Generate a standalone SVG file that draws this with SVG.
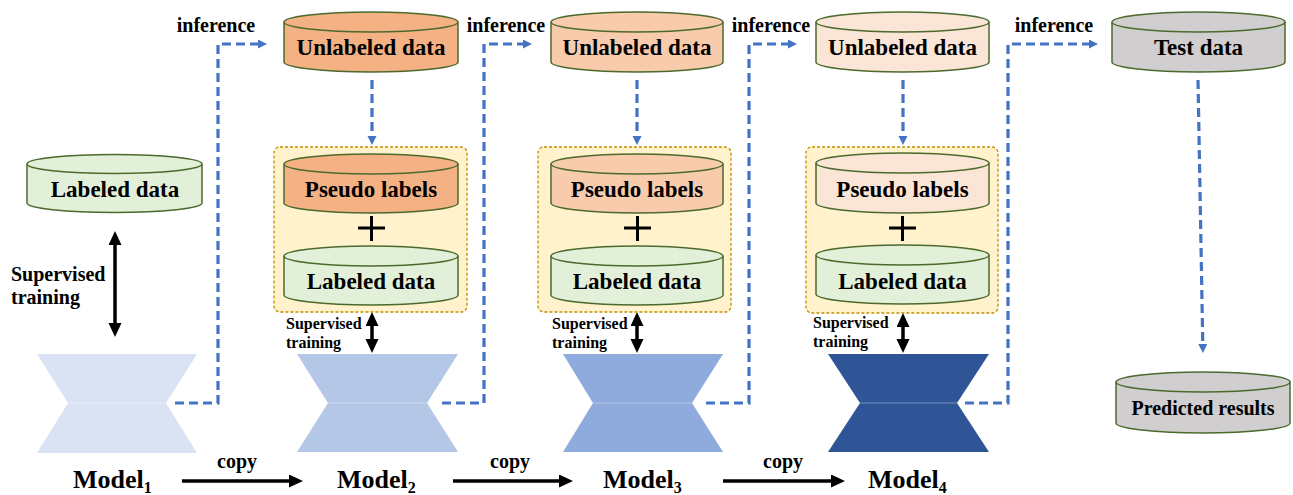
<svg xmlns="http://www.w3.org/2000/svg" width="1293" height="495" viewBox="0 0 1293 495">
<style>
text{font-family:"Liberation Serif","Times New Roman",serif;font-weight:bold;fill:#000}
.cyl{stroke:#4b6a2c;stroke-width:1.5}
.lab{fill:#e2f0d9}
.t23{font-size:23px;text-anchor:middle}
.box{fill:#fff2cc;stroke:#bf9000;stroke-width:1.3;stroke-dasharray:3 2}
.dash{fill:none;stroke:#4472c4;stroke-width:3.2;stroke-dasharray:9 5}
.blk{fill:none;stroke:#000;stroke-width:3.5}
.plus{stroke:#000;stroke-width:3}
.seam{stroke:#ffffff;stroke-opacity:0.35;stroke-width:1}
</style>
<defs>
<marker id="bh" markerUnits="userSpaceOnUse" markerWidth="10" markerHeight="10" refX="1" refY="4.5" orient="auto"><path d="M0,0 L9,4.5 L0,9 z" fill="#4472c4"/></marker>
<marker id="kh" markerUnits="userSpaceOnUse" markerWidth="16" markerHeight="14" refX="1" refY="6.5" orient="auto-start-reverse"><path d="M0,0 L14,6.5 L0,13 z" fill="#000"/></marker>
</defs>

<g id="connectors">
  <path class="dash" d="M175,403 H218 V44 H259" marker-end="url(#bh)"/>
  <path class="dash" d="M442,403 H484 V44 H524" marker-end="url(#bh)"/>
  <path class="dash" d="M706,403 H749 V44 H789" marker-end="url(#bh)"/>
  <path class="dash" d="M965,403 H1008 V44 H1090" marker-end="url(#bh)"/>
  <path class="dash" d="M372,80 V137" marker-end="url(#bh)"/>
  <path class="dash" d="M637,80 V137" marker-end="url(#bh)"/>
  <path class="dash" d="M903,80 V137" marker-end="url(#bh)"/>
  <path class="dash" d="M1198,80 L1202.8,345" marker-end="url(#bh)"/>
  <path class="blk" d="M115,244 V324" marker-start="url(#kh)" marker-end="url(#kh)"/>
  <path class="blk" d="M372,325 V340" marker-start="url(#kh)" marker-end="url(#kh)"/>
  <path class="blk" d="M637,325 V340" marker-start="url(#kh)" marker-end="url(#kh)"/>
  <path class="blk" d="M903,326 V340" marker-start="url(#kh)" marker-end="url(#kh)"/>
  <path class="blk" d="M182,481 H290" marker-end="url(#kh)"/>
  <path class="blk" d="M453,481 H560" marker-end="url(#kh)"/>
  <path class="blk" d="M723,481 H832" marker-end="url(#kh)"/>
  <text x="237" y="468" font-size="20" text-anchor="middle">copy</text>
  <text x="510" y="468" font-size="20" text-anchor="middle">copy</text>
  <text x="783" y="468" font-size="20" text-anchor="middle">copy</text>
  <text x="216" y="32" font-size="20" text-anchor="middle">inference</text>
  <text x="506" y="32" font-size="20" text-anchor="middle">inference</text>
  <text x="771" y="32" font-size="20" text-anchor="middle">inference</text>
  <text x="1054" y="32" font-size="20" text-anchor="middle">inference</text>
  <text x="11" y="281" font-size="20">Supervised</text>
  <text x="11" y="304" font-size="20">training</text>
  <text x="286" y="329" font-size="16">Supervised</text>
  <text x="286" y="348" font-size="16">training</text>
  <text x="552" y="329" font-size="16">Supervised</text>
  <text x="552" y="348" font-size="16">training</text>
  <text x="813" y="328" font-size="16">Supervised</text>
  <text x="813" y="347" font-size="16">training</text>
</g>

<g id="labeled1">
  <path class="cyl lab" d="M27,164 V203 A87.5,9.5 0 0 0 202,203 V164"/>
  <ellipse class="cyl lab" cx="114.5" cy="164" rx="87.5" ry="9.5"/>
  <text class="t23" x="115" y="197">Labeled data</text>
</g>

<g id="unlabeled2">
  <path class="cyl" fill="#f4b183" d="M284,22 V62 A87,10 0 0 0 458,62 V22"/>
  <ellipse class="cyl" fill="#f4b183" cx="371" cy="22" rx="87" ry="10"/>
  <text class="t23" x="371" y="55">Unlabeled data</text>
</g>
<g id="unlabeled3">
  <path class="cyl" fill="#f8cbad" d="M551,22 V62 A86,10 0 0 0 723,62 V22"/>
  <ellipse class="cyl" fill="#f8cbad" cx="637" cy="22" rx="86" ry="10"/>
  <text class="t23" x="637" y="55">Unlabeled data</text>
</g>
<g id="unlabeled4">
  <path class="cyl" fill="#fbe5d6" d="M816,22 V62 A86.5,10 0 0 0 989,62 V22"/>
  <ellipse class="cyl" fill="#fbe5d6" cx="902.5" cy="22" rx="86.5" ry="10"/>
  <text class="t23" x="902.5" y="55">Unlabeled data</text>
</g>
<g id="testdata">
  <path class="cyl" fill="#d0cece" d="M1112,22 V62 A86.5,10 0 0 0 1285,62 V22"/>
  <ellipse class="cyl" fill="#d0cece" cx="1198.5" cy="22" rx="86.5" ry="10"/>
  <text class="t23" x="1198.5" y="55">Test data</text>
</g>
<g id="predicted">
  <path class="cyl" fill="#d0cece" d="M1116,382 V423 A87,10 0 0 0 1290,423 V382"/>
  <ellipse class="cyl" fill="#d0cece" cx="1203" cy="382" rx="87" ry="10"/>
  <text x="1203" y="415" font-size="20" text-anchor="middle">Predicted results</text>
</g>

<g id="train2">
  <rect class="box" x="274" y="147" width="193" height="165" rx="6"/>
  <path class="cyl" fill="#f4b183" d="M284,164 V203 A87,10 0 0 0 458,203 V164"/>
  <ellipse class="cyl" fill="#f4b183" cx="371" cy="164" rx="87" ry="10"/>
  <text class="t23" x="371" y="197">Pseudo labels</text>
  <path class="plus" d="M358,228 H385 M371.5,216 V241"/>
  <path class="cyl lab" d="M284,256 V295 A87,10 0 0 0 458,295 V256"/>
  <ellipse class="cyl lab" cx="371" cy="256" rx="87" ry="10"/>
  <text class="t23" x="371" y="289">Labeled data</text>
</g>
<g id="train3">
  <rect class="box" x="538" y="147" width="193" height="165" rx="6"/>
  <path class="cyl" fill="#f8cbad" d="M551,164 V203 A86,10 0 0 0 723,203 V164"/>
  <ellipse class="cyl" fill="#f8cbad" cx="637" cy="164" rx="86" ry="10"/>
  <text class="t23" x="637" y="197">Pseudo labels</text>
  <path class="plus" d="M624,228 H651 M637.5,216 V241"/>
  <path class="cyl lab" d="M551,256 V295 A86,10 0 0 0 723,295 V256"/>
  <ellipse class="cyl lab" cx="637" cy="256" rx="86" ry="10"/>
  <text class="t23" x="637" y="289">Labeled data</text>
</g>
<g id="train4">
  <rect class="box" x="806" y="147" width="192" height="166" rx="6"/>
  <path class="cyl" fill="#fbe5d6" d="M816,163 V203 A86.5,10 0 0 0 989,203 V163"/>
  <ellipse class="cyl" fill="#fbe5d6" cx="902.5" cy="163" rx="86.5" ry="10"/>
  <text class="t23" x="902.5" y="197">Pseudo labels</text>
  <path class="plus" d="M889,228 H916 M902.5,216 V241"/>
  <path class="cyl lab" d="M816,255 V294 A86.5,10 0 0 0 989,294 V255"/>
  <ellipse class="cyl lab" cx="902.5" cy="255" rx="86.5" ry="10"/>
  <text class="t23" x="902.5" y="289">Labeled data</text>
</g>

<g id="model1">
  <polygon fill="#dae3f3" points="37,354 197,354 166,403 68,403"/>
  <polygon fill="#dae3f3" points="68,403 166,403 197,453 37,453"/>
  <line class="seam" x1="68" y1="403" x2="166" y2="403"/>
  <text x="73" y="488" font-size="26">Model<tspan font-size="16" dy="5">1</tspan></text>
</g>
<g id="model2">
  <polygon fill="#b4c7e7" points="297,354 458,354 427,403 328,403"/>
  <polygon fill="#b4c7e7" points="328,403 427,403 458,452 297,452"/>
  <line class="seam" x1="328" y1="403" x2="427" y2="403"/>
  <text x="337" y="488" font-size="26">Model<tspan font-size="16" dy="5">2</tspan></text>
</g>
<g id="model3">
  <polygon fill="#8faadc" points="563,354 723,354 692,403 593,403"/>
  <polygon fill="#8faadc" points="593,403 692,403 723,452 563,452"/>
  <line class="seam" x1="593" y1="403" x2="692" y2="403"/>
  <text x="603" y="488" font-size="26">Model<tspan font-size="16" dy="5">3</tspan></text>
</g>
<g id="model4">
  <polygon fill="#2f5597" points="828,354 989,354 957,403 860,403"/>
  <polygon fill="#2f5597" points="860,403 957,403 989,452 828,452"/>
  <line class="seam" x1="860" y1="403" x2="957" y2="403"/>
  <text x="868" y="488" font-size="26">Model<tspan font-size="16" dy="5">4</tspan></text>
</g>
</svg>
